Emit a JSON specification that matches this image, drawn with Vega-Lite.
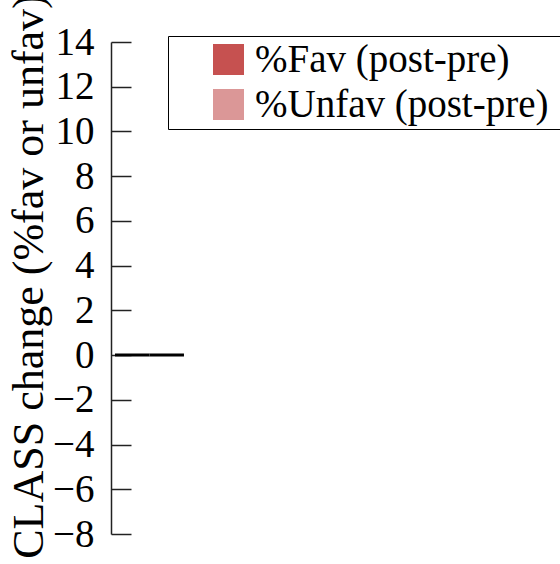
{
  "$schema": "https://vega.github.io/schema/vega-lite/v6.json",
  "autosize": {"type": "none"},
  "padding": {"left": 111, "top": 42, "right": 0, "bottom": 30},
  "width": 449,
  "height": 492,
  "background": "white",
  "data": {
    "values": [
      {"group": "A", "measure": "%Fav (post-pre)", "change": 0},
      {"group": "A", "measure": "%Unfav (post-pre)", "change": 0}
    ]
  },
  "mark": {"type": "bar", "stroke": "black", "strokeWidth": 3},
  "encoding": {
    "x": {
      "field": "group",
      "type": "nominal",
      "axis": null,
      "scale": {"paddingInner": 0.637, "paddingOuter": 1, "align": 0.0105}
    },
    "xOffset": {"field": "measure", "type": "nominal"},
    "y": {
      "field": "change",
      "type": "quantitative",
      "scale": {"domain": [-8, 14], "nice": false, "zero": false},
      "axis": {
        "title": "CLASS change (%fav or unfav)",
        "values": [-8, -6, -4, -2, 0, 2, 4, 6, 8, 10, 12, 14],
        "grid": false,
        "domainColor": "#222222",
        "domainWidth": 1.5,
        "tickColor": "#222222",
        "tickWidth": 1.5,
        "tickSize": -20,
        "labelPadding": 37,
        "labelFont": "Liberation Serif",
        "labelFontSize": 39,
        "labelColor": "black",
        "titleFont": "Liberation Serif",
        "titleFontSize": 44,
        "titleFontWeight": "normal",
        "titleColor": "black",
        "titleAngle": -90,
        "titleX": -69,
        "titleY": 234,
        "titleAlign": "center",
        "titleBaseline": "alphabetic"
      }
    },
    "color": {
      "field": "measure",
      "type": "nominal",
      "scale": {
        "domain": ["%Fav (post-pre)", "%Unfav (post-pre)"],
        "range": ["#c65150", "#db9797"]
      },
      "legend": {
        "title": null,
        "orient": "none",
        "legendX": 57,
        "legendY": -6,
        "direction": "vertical",
        "strokeColor": "black",
        "padding": 4,
        "symbolType": "square",
        "symbolSize": 961,
        "symbolStrokeWidth": 0,
        "symbolOpacity": 1,
        "symbolOffset": 37,
        "labelOffset": 7,
        "labelFont": "Liberation Serif",
        "labelFontSize": 39,
        "labelColor": "black",
        "labelLimit": 0,
        "rowPadding": 5,
        "labelExpr": "datum.label + '\u2800\u2800'",
        "encode": {
          "legend": {"update": {"strokeWidth": {"value": 1.5}}}
        }
      }
    }
  },
  "config": {"view": {"stroke": null}, "font": "Liberation Serif"}
}
